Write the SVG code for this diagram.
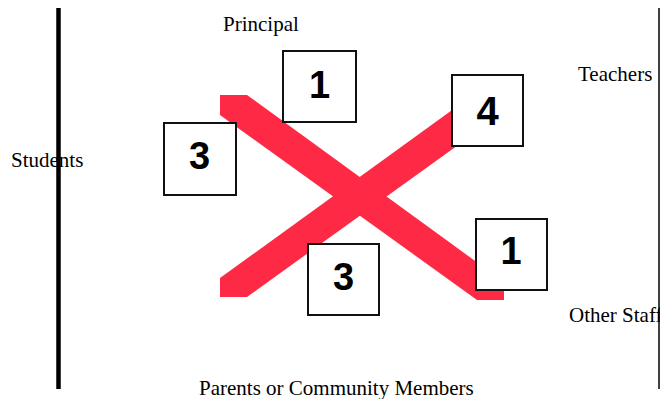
<svg xmlns="http://www.w3.org/2000/svg" width="660" height="399" viewBox="0 0 660 399">
<style>
.lbl{font-family:"Liberation Serif","Times New Roman",serif;font-size:21px;fill:#000}
.box{fill:#fff;stroke:#111;stroke-width:2}
.num{font-family:"Liberation Sans",Arial,sans-serif;font-weight:bold;fill:#000;text-anchor:middle;font-size:38px}
.band{fill:#fe2944}
</style>
<rect width="660" height="399" fill="#fff"/>
<g id="axes">
<line x1="58.5" y1="8" x2="58.5" y2="389" stroke="#000" stroke-width="4.5"/>
<line x1="659" y1="8" x2="659" y2="389" stroke="#000" stroke-width="1.5"/>
</g>
<g id="labels">
<text class="lbl" x="223" y="31">Principal</text>
<text class="lbl" x="11" y="167">Students</text>
<text class="lbl" x="578" y="81">Teachers</text>
<text class="lbl" x="569" y="322">Other Staff</text>
<text class="lbl" x="199" y="395">Parents or Community Members</text>
</g>
<g id="connectors">
<polygon class="band" points="220,95 247,95 504,282 504,300 477,300 220,115"/>
<polygon class="band" points="220,278 220,297 247,297 504,112 504,92 477,92"/>
</g>
<g id="node-principal">
<rect class="box" x="283" y="51" width="73" height="71"/>
<text class="num" x="319.5" y="97.5">1</text>
</g>
<g id="node-students">
<rect class="box" x="164" y="123" width="72" height="72"/>
<text class="num" x="199.5" y="168.5">3</text>
</g>
<g id="node-teachers">
<rect class="box" x="452" y="75" width="71" height="71"/>
<text class="num" x="487.5" y="125" style="font-size:40px">4</text>
</g>
<g id="node-parents">
<rect class="box" x="308" y="244" width="71" height="71"/>
<text class="num" x="343.5" y="289.5">3</text>
</g>
<g id="node-otherstaff">
<rect class="box" x="476" y="219" width="71" height="71"/>
<text class="num" x="511" y="264">1</text>
</g>
</svg>
